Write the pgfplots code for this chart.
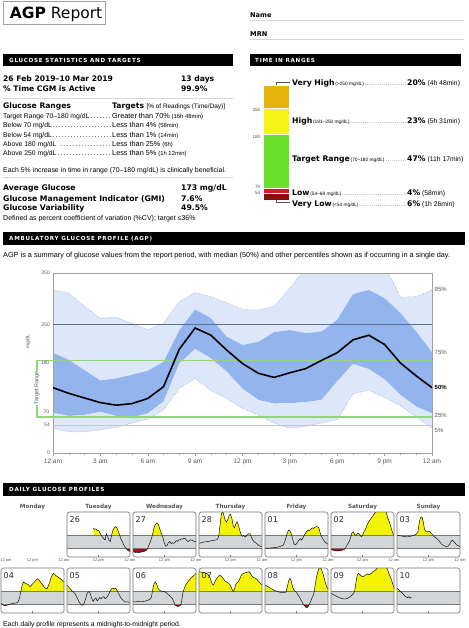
\documentclass[border=0pt]{standalone}
\usepackage{fontspec}
\setmainfont{Liberation Sans}
\newfontfamily\dv{DejaVu Sans}
\newfontfamily\dvl[LetterSpace=13]{DejaVu Sans}
\usepackage{pgfplots}
\pgfplotsset{compat=1.18}
\usepackage{pgfplotstable}
\newcommand{\fs}[1]{\fontsize{#1pt}{#1pt}\selectfont}

\definecolor{cVH}{RGB}{230,180,10}
\definecolor{cH}{RGB}{244,244,20}
\definecolor{cT}{RGB}{105,224,42}
\definecolor{cL}{RGB}{208,28,28}
\definecolor{cVL}{RGB}{143,10,10}
\definecolor{bandlight}{RGB}{220,231,250}
\definecolor{banddark}{RGB}{148,180,238}
\definecolor{bandedge}{RGB}{135,155,190}
\definecolor{tgreen}{RGB}{145,214,125}
\definecolor{lline}{RGB}{95,112,138}
\definecolor{lgray}{RGB}{200,200,200}
\definecolor{frame}{RGB}{160,160,160}
\definecolor{dgray}{RGB}{211,214,217}
\definecolor{dline}{RGB}{120,120,120}
\definecolor{dbox}{RGB}{115,115,115}
\definecolor{dyel}{RGB}{244,244,0}
\definecolor{dred}{RGB}{165,15,15}
\definecolor{rulec}{RGB}{215,215,215}
\definecolor{txtgray}{RGB}{85,85,85}
\definecolor{dtext}{RGB}{40,40,40}

\tikzset{t/.style={inner sep=0pt, anchor=base west}}

\pgfplotstableread{
h p05 p25 p50 p75 p95
0 48 78 127 195 317
1 41 72 116 181 311
2 41 74 107 161 285
3 45 80 98 141 262
4 50 72 93 145 264
5 58 69 96 152 252
6 66 77 106 160 240
7 84 100 129 177 252
8 126 174 202 239 294
9 145 202 243 279 312
10 122 184 229 262 304
11 106 158 200 226 292
12 87 125 174 210 279
13 74 103 155 216 278
14 58 96 147 235 285
15 48 97 156 239 320
16 52 99 164 233 360
17 58 103 180 236 380
18 65 139 195 259 385
19 115 173 220 309 385
20 122 163 229 317 375
21 108 143 211 301 365
22 92 113 175 272 303
23 70 90 150 236 304
24 48 77 127 196 317
}\agp

\pgfplotstableread{
x y
10 236
10.5 228
11 232
11.5 218
12 222
12.5 200
13 180
13.5 165
14 150
14.5 140
15 190
15.5 170
16 135
16.5 128
17 180
17.5 222
18 240
18.5 249
19 240
19.5 215
20 185
20.5 150
21 130
21.5 105
22 85
22.5 72
23 58
23.5 50
24 45
}\dayA

\pgfplotstableread{
x y
0 42
0.5 40
1 38
1.5 40
2 36
2.5 38
3 40
3.5 42
4 45
4.5 48
5 55
5.5 65
6 95
6.5 120
7 150
7.5 190
8 240
8.5 268
9 280
9.5 275
10 245
10.5 210
11 185
11.5 150
12 110
12.5 88
13 95
13.5 120
14 128
14.5 110
15 118
15.5 112
16 120
16.5 135
17 128
17.5 142
18 140
18.5 150
19 148
19.5 155
20 150
20.5 135
21 126
21.5 135
22 142
22.5 138
23 130
23.5 128
24 126
}\dayB

\pgfplotstableread{
x y
0 113
1 118
2 124
3 126
4 130
5 135
6 138
7 145
7.5 170
8 260
8.5 350
9 380
9.5 340
10 300
10.5 288
11 310
11.5 345
12 350
12.5 320
13 260
13.5 240
14 270
14.5 290
15 265
15.5 220
16 185
16.5 170
17 178
17.5 165
18 172
18.5 185
19 192
19.5 190
20 160
20.5 140
21 125
21.5 118
22 110
22.5 100
23 92
23.5 88
24 85
}\dayC

\pgfplotstableread{
x y
0 72
1 73
2 74
3 76
4 78
5 82
6 88
7 100
7.5 125
8 160
8.5 200
9 222
9.5 215
10 190
10.5 150
11 110
11.5 100
12 108
12.5 125
13 140
13.5 150
14 140
14.5 160
15 180
15.5 200
16 212
16.5 222
17 218
17.5 230
18 240
18.5 235
19 245
19.5 250
20 248
20.5 240
21 200
21.5 170
22 150
22.5 135
23 120
23.5 112
24 105
}\dayD

\pgfplotstableread{
x y
0 65
0.5 58
1 55
1.5 52
2 50
2.5 50
3 51
3.5 53
4 55
4.5 58
5 62
5.5 72
6 95
6.5 112
7 130
7.5 165
8 200
8.5 208
9 185
9.5 178
10 192
10.5 195
11 180
11.5 168
12 175
12.5 205
13 222
13.5 250
14 275
14.5 295
15 310
15.5 325
16 340
16.5 355
17 368
17.5 380
18 385
19 390
20 388
21 375
21.5 330
22 300
22.5 270
23 230
23.5 200
24 178
}\dayE

\pgfplotstableread{
x y
0 178
1 175
2 172
3 168
4 165
5 170
6 175
7 185
7.5 192
8 210
8.5 290
9 325
9.5 330
10 290
10.5 225
11 210
11.5 212
12 214
12.5 208
13 195
13.5 185
14 170
14.5 162
15 155
15.5 145
16 135
16.5 120
17 105
17.5 98
18 92
18.5 88
19 86
19.5 90
20 105
20.5 125
21 138
21.5 130
22 118
22.5 105
23 95
23.5 90
24 85
}\dayF

\pgfplotstableread{
x y
0 80
0.5 70
1 64
1.5 60
2 62
2.5 66
3 70
4 76
5 80
6 84
6.5 92
7 120
7.5 170
8 225
8.5 255
9 248
9.5 240
10 238
10.5 232
11 218
11.5 225
12 240
12.5 250
13 262
13.5 275
14 282
14.5 272
15 255
15.5 240
16 228
16.5 212
17 203
17.5 200
18 220
18.5 250
19 285
19.5 310
20 326
20.5 318
21 305
21.5 300
22 290
22.5 285
23 275
23.5 265
24 258
}\dayG

\pgfplotstableread{
x y
0 230
0.5 218
1 205
1.5 192
2 180
2.5 172
3 160
3.5 140
4 118
4.5 95
5 78
5.5 66
6 64
6.5 80
7 110
7.5 150
8 172
8.5 176
9 150
9.5 115
10 95
10.5 115
11 125
11.5 100
12 112
12.5 128
13 118
13.5 130
14 135
14.5 118
15 125
15.5 140
16 160
16.5 185
17 200
17.5 205
18 198
18.5 204
19 190
19.5 165
20 145
20.5 125
21 112
21.5 100
22 94
22.5 90
23 92
23.5 90
24 88
}\dayH

\pgfplotstableread{
x y
0 93
1 92
2 94
3 92
4 95
5 100
6 108
6.5 115
7 130
7.5 190
8 240
8.5 257
9 240
9.5 205
10 190
10.5 182
11 178
12 175
12.5 170
13 160
13.5 150
14 140
14.5 130
15 118
15.5 95
16 66
16.5 58
17 55
17.5 56
18 60
18.5 90
19 165
19.5 200
20 228
20.5 245
21 260
21.5 272
22 285
22.5 295
23 305
23.5 315
24 326
}\dayI

\pgfplotstableread{
x y
0 340
0.5 338
1 335
1.5 330
2 332
2.5 328
3 325
3.5 315
4 300
4.5 270
5 240
5.5 230
6 255
6.5 275
7 290
7.5 305
8 312
8.5 300
9 290
9.5 275
10 262
10.5 255
11 250
11.5 240
12 228
12.5 200
13 178
13.5 195
14 235
14.5 250
15 258
15.5 280
16 305
16.5 320
17 326
17.5 330
18 332
18.5 338
19 340
19.5 330
20 310
20.5 298
21 290
21.5 285
22 278
22.5 265
23 255
23.5 240
24 232
}\dayJ

\pgfplotstableread{
x y
0 230
1 218
2 205
3 192
4 182
5 174
6 170
7 168
8 172
8.5 215
9 265
9.5 285
10 262
10.5 215
11 190
11.5 178
12 168
12.5 150
13 135
13.5 115
14 95
14.5 75
15 60
15.5 48
16 45
16.5 55
17 78
17.5 100
18 130
18.5 150
19 210
19.5 280
20 330
20.5 365
21 375
21.5 360
22 330
22.5 290
23 250
23.5 215
24 200
}\dayK

\pgfplotstableread{
x y
0 162
1 150
2 138
3 128
4 120
5 115
6 118
7 130
8 148
8.5 160
9 178
9.5 250
10 310
10.5 326
11 315
11.5 305
12 298
12.5 300
13 310
13.5 318
14 322
14.5 315
15 320
15.5 330
16 340
16.5 345
17 355
17.5 365
18 380
19 385
20 385
21 378
21.5 360
22 330
22.5 300
23 275
23.5 240
24 205
}\dayL

\pgfplotstableread{
x y
0 205
0.5 195
1 182
1.5 172
2 165
2.5 152
3 140
3.5 132
4 126
4.5 135
5 122
5.5 130
}\dayM

\pgfplotsset{dayp/.style={anchor=south west, scale only axis, width=63pt, height=45pt,
  xmin=0, xmax=24, ymin=0, ymax=370,
  axis line style={draw=none},
  xtick={12}, xticklabels={}, ytick=\empty, xtick pos=bottom,
  tick align=inside, major tick length=2.5pt,
  xtick style={draw=dline, line width=0.4pt}}}

\newcommand{\daypanel}[7]{%
\begin{axis}[dayp, name=#1, at={(#2pt,-#3pt)}]
\addplot[draw=none, fill=dgray] coordinates {(0,70) (24,70) (24,180) (0,180)};
\begin{scope}
\clip (axis cs:0,180) rectangle (axis cs:24,400);
\addplot[draw=none, fill=dyel] table {#4} \closedcycle;
\end{scope}
\begin{scope}
\clip (axis cs:0,-10) rectangle (axis cs:24,70);
\addplot[draw=none, fill=dred] table {#4} -- (axis cs:#6,400) -- (axis cs:#5,400) -- cycle;
\end{scope}
\addplot[dline, line width=0.4pt] coordinates {(0,70) (24,70)};
\addplot[dline, line width=0.4pt] coordinates {(0,180) (24,180)};
\addplot[black, line width=0.45pt] table {#4};
\end{axis}
\draw[rounded corners=2.5pt, dbox, line width=0.6pt] (#1.south west) rectangle (#1.north east);
\node[t, font=\dv\fs{8}, text=dtext] at ({#2pt+2.5pt},{-#3pt+34.8pt}) {#7};
}

\begin{document}
\begin{tikzpicture}
\fill[white] (0,0) rectangle (468pt,-628pt);
\useasboundingbox (0,0) rectangle (468pt,-628pt);

% ---------- header
\draw[frame, line width=0.8pt] (3.3pt,-1.2pt) rectangle (105pt,-24pt);
\node[t, font=\dv\fs{15.5}] at (9.7pt,-18.4pt) {\bfseries AGP\mdseries\ Report};
\node[t, font=\dv\bfseries\fs{6.6}] at (250pt,-17.5pt) {Name};
\node[t, font=\dv\bfseries\fs{6.6}] at (250pt,-36.2pt) {MRN};
\draw[rulec, line width=0.6pt] (250pt,-20.7pt) -- (464pt,-20.7pt);
\draw[rulec, line width=0.6pt] (250pt,-39.3pt) -- (464pt,-39.3pt);

% ---------- glucose statistics
\fill[black] (3pt,-54.5pt) rectangle (233pt,-66.5pt);
\node[t, text=white, font=\dvl\bfseries\fs{5.6}] at (9pt,-62.8pt) {GLUCOSE STATISTICS AND TARGETS};
\node[t, font=\dv\bfseries\fs{7.6}] at (3pt,-81.1pt) {26 Feb 2019–10 Mar 2019};
\node[t, font=\dv\bfseries\fs{7.6}] at (181pt,-81.1pt) {13 days};
\node[t, font=\dv\bfseries\fs{7.6}] at (3pt,-91.1pt) {\% Time CGM is Active};
\node[t, font=\dv\bfseries\fs{7.6}] at (181pt,-91.1pt) {99.9\%};
\draw[rulec, line width=0.9pt] (3pt,-98pt) -- (233pt,-98pt);
\node[t, font=\dv\bfseries\fs{7.6}] at (3pt,-108.8pt) {Glucose Ranges};
\node[t, font=\dv\bfseries\fs{7.6}] at (112pt,-108.8pt) {Targets {\rmfamily\mdseries\fs{6.4}[\% of Readings (Time/Day)]}};
\node[t, font=\fs{6.8}] at (3pt,-118.4pt) {\makebox[109pt][l]{Target Range 70–180 mg/dL\dotfill}{\fs{7.3}Greater than 70\%} {\fs{5.9}(16h 48min)}};
\node[t, font=\fs{6.8}] at (3pt,-127.7pt) {\makebox[109pt][l]{Below 70 mg/dL\dotfill}{\fs{7.3}Less than 4\%} {\fs{5.9}(58min)}};
\node[t, font=\fs{6.8}] at (3pt,-137.1pt) {\makebox[109pt][l]{Below 54 mg/dL\dotfill}{\fs{7.3}Less than 1\%} {\fs{5.9}(14min)}};
\node[t, font=\fs{6.8}] at (3pt,-146.1pt) {\makebox[109pt][l]{Above 180 mg/dL \dotfill}{\fs{7.3}Less than 25\%} {\fs{5.9}(6h)}};
\node[t, font=\fs{6.8}] at (3pt,-155.1pt) {\makebox[109pt][l]{Above 250 mg/dL\dotfill}{\fs{7.3}Less than 5\%} {\fs{5.9}(1h 12min)}};
\node[t, font=\fs{6.9}] at (3pt,-172.3pt) {Each 5\% increase in time in range (70–180 mg/dL) is clinically beneficial.};
\draw[rulec, line width=0.9pt] (3pt,-177.7pt) -- (233pt,-177.7pt);
\node[t, font=\dv\bfseries\fs{7.7}] at (3pt,-190.5pt) {Average Glucose};
\node[t, font=\dv\bfseries\fs{7.7}] at (181pt,-190.5pt) {173 mg/dL};
\node[t, font=\dv\bfseries\fs{7.7}] at (3pt,-201.5pt) {Glucose Management Indicator (GMI)};
\node[t, font=\dv\bfseries\fs{7.7}] at (181pt,-201.5pt) {7.6\%};
\node[t, font=\dv\bfseries\fs{7.7}] at (3pt,-210.5pt) {Glucose Variability};
\node[t, font=\dv\bfseries\fs{7.7}] at (181pt,-210.5pt) {49.5\%};
\node[t, font=\fs{7}] at (3pt,-220.2pt) {Defined as percent coefficient of variation (\%CV); target ≤36\%};

% ---------- time in ranges
\fill[black] (250pt,-54.5pt) rectangle (461pt,-66.5pt);
\node[t, text=white, font=\dvl\bfseries\fs{5.6}] at (255pt,-62.8pt) {TIME IN RANGES};
\begin{axis}[at={(263pt,-200pt)}, anchor=south west, scale only axis, width=26pt, height=115pt,
  xmin=-0.5, xmax=0.5, ymin=0, ymax=100, hide axis, ybar stacked, bar width=26pt, clip=false]
\addplot[fill=cVL, draw=white, line width=0.5pt] coordinates {(0,6)};
\addplot[fill=cL, draw=white, line width=0.5pt] coordinates {(0,4)};
\addplot[fill=cT, draw=white, line width=0.5pt] coordinates {(0,47)};
\addplot[fill=cH, draw=white, line width=0.5pt] coordinates {(0,23)};
\addplot[fill=cVH, draw=white, line width=0.5pt] coordinates {(0,20)};
\end{axis}
\node[inner sep=0pt, anchor=base east, font=\fs{4.6}, text=txtgray] at (260.5pt,-111.6pt) {250};
\node[inner sep=0pt, anchor=base east, font=\fs{4.6}, text=txtgray] at (260.5pt,-138.6pt) {180};
\node[inner sep=0pt, anchor=base east, font=\fs{4.6}, text=txtgray] at (260.5pt,-189pt) {70};
\node[inner sep=0pt, anchor=base east, font=\fs{4.6}, text=txtgray] at (260.5pt,-194.8pt) {54};
\draw[txtgray, line width=0.5pt] (276pt,-85pt) -- (276pt,-82.7pt) -- (290pt,-82.7pt);
\draw[txtgray, line width=0.5pt] (276pt,-200pt) -- (276pt,-202.5pt) -- (290pt,-202.5pt);
\node[t, font=\dv\bfseries\fs{7.7}] at (292pt,-85.8pt) {\makebox[115pt][l]{Very High{\rmfamily\mdseries\fs{4.8}\,(>250 mg/dL)\dotfill}}20\%{\rmfamily\mdseries\fs{6.8} (4h 48min)}};
\node[t, font=\dv\bfseries\fs{7.7}] at (292pt,-123.5pt) {\makebox[115pt][l]{High{\rmfamily\mdseries\fs{4.8}\,(181–250 mg/dL)\dotfill}}23\%{\rmfamily\mdseries\fs{6.8} (5h 31min)}};
\node[t, font=\dv\bfseries\fs{7.7}] at (292pt,-161.1pt) {\makebox[115pt][l]{Target Range{\rmfamily\mdseries\fs{4.8}\,(70–180 mg/dL)\dotfill}}47\%{\rmfamily\mdseries\fs{6.8} (11h 17min)}};
\node[t, font=\dv\bfseries\fs{7.7}] at (292pt,-195.5pt) {\makebox[115pt][l]{Low{\rmfamily\mdseries\fs{4.8}\,(54–69 mg/dL)\dotfill}}4\%{\rmfamily\mdseries\fs{6.8} (58min)}};
\node[t, font=\dv\bfseries\fs{7.7}] at (292pt,-206.1pt) {\makebox[115pt][l]{Very Low{\rmfamily\mdseries\fs{4.8}\,(<54 mg/dL)\dotfill}}6\%{\rmfamily\mdseries\fs{6.8} (1h 26min)}};

% ---------- AGP
\fill[black] (3pt,-232pt) rectangle (465pt,-245pt);
\node[t, text=white, font=\dvl\bfseries\fs{5.6}] at (9pt,-240.3pt) {AMBULATORY GLUCOSE PROFILE (AGP)};
\node[t, font=\fs{7.3}] at (3pt,-257.6pt) {AGP is a summary of glucose values from the report period, with median (50\%) and other percentiles shown as if occurring in a single day.};

% bands (stacked areas)
\begin{axis}[at={(53pt,-453pt)}, anchor=south west, scale only axis, width=379pt, height=180pt,
  xmin=0, xmax=24, ymin=0, ymax=350, hide axis, stack plots=y]
\addplot[draw=none] table[x=h,y=p05] {\agp};
\addplot[fill=bandlight, draw=none] table[x=h,y expr=\thisrow{p25}-\thisrow{p05}] {\agp} \closedcycle;
\addplot[fill=banddark, draw=none] table[x=h,y expr=\thisrow{p75}-\thisrow{p25}] {\agp} \closedcycle;
\addplot[fill=bandlight, draw=none] table[x=h,y expr=\thisrow{p95}-\thisrow{p75}] {\agp} \closedcycle;
\end{axis}

\begin{axis}[at={(53pt,-453pt)}, anchor=south west, scale only axis, width=379pt, height=180pt,
  xmin=0, xmax=24, ymin=0, ymax=350,
  axis line style={draw=frame, line width=0.6pt},
  xtick={0,3,...,24},
  xticklabels={12 am,3 am,6 am,9 am,12 pm,3 pm,6 pm,9 pm,12 am},
  minor xtick={1,2,...,23},
  xtick pos=bottom, ytick pos=left,
  tick align=outside, major tick length=3pt, minor tick length=2pt,
  xtick style={draw=frame, line width=0.5pt},
  ytick={0,54,250,350}, yticklabels={0,54,250,350},
  ytick style={draw=none},
  yticklabel style={font=\fs{5}, text=txtgray, inner sep=0pt},
  xticklabel style={font=\fs{6.5}, text=txtgray, inner sep=0pt, yshift=-2.5pt}]
\addplot[bandedge, densely dotted, line width=0.45pt] table[x=h,y=p95] {\agp};
\addplot[bandedge, densely dotted, line width=0.45pt] table[x=h,y=p05] {\agp};
\addplot[lline, line width=0.6pt] coordinates {(0,250) (24,250)};
\addplot[lgray, line width=1.3pt] coordinates {(0,54) (24,54)};
\addplot[tgreen, line width=1.3pt] coordinates {(0,180) (24,180)};
\addplot[tgreen, line width=1.3pt] coordinates {(0,70) (24,70)};
\addplot[black, line width=1.6pt] table[x=h,y=p50] {\agp};
\end{axis}
\draw[tgreen, line width=1.3pt] (53pt,-360.4pt) -- (37pt,-360.4pt) -- (37pt,-417pt) -- (53pt,-417pt);
\node[rotate=90, font=\fs{5}, text=txtgray, inner sep=0pt] at (28pt,-341.7pt) {mg/dL};
\node[rotate=90, font=\fs{5.5}, text=txtgray, fill=white, inner sep=0.8pt] at (37pt,-388pt) {Target Range};
\node[anchor=east, font=\fs{5}, text=txtgray, inner sep=0pt] at (49.3pt,-363pt) {180};
\node[anchor=east, font=\fs{5}, text=txtgray, inner sep=0pt] at (49.3pt,-412pt) {70};
\node[anchor=west, font=\fs{6}, text=txtgray, inner sep=0pt] at (434.5pt,-289.5pt) {95\%};
\node[anchor=west, font=\fs{6}, text=txtgray, inner sep=0pt] at (434.5pt,-352.3pt) {75\%};
\node[anchor=west, font=\bfseries\fs{6}, inner sep=0pt] at (434.5pt,-387.7pt) {50\%};
\node[anchor=west, font=\fs{6}, text=txtgray, inner sep=0pt] at (434.5pt,-415pt) {25\%};
\node[anchor=west, font=\fs{6}, text=txtgray, inner sep=0pt] at (434.5pt,-430.7pt) {5\%};

% ---------- daily profiles
\fill[black] (3pt,-483pt) rectangle (465pt,-495.5pt);
\node[t, text=white, font=\dvl\bfseries\fs{5.6}] at (9pt,-491.5pt) {DAILY GLUCOSE PROFILES};
\foreach \d/\xx in {Monday/32.5,Tuesday/98.5,Wednesday/164.5,Thursday/230.5,Friday/296.5,Saturday/362.5,Sunday/428.5}
  \node[inner sep=0pt, anchor=base, font=\dv\bfseries\fs{5.7}, text=txtgray] at (\xx pt,-508.1pt) {\d};

\daypanel{pA}{67}{557}{\dayA}{10}{24}{26}
\daypanel{pB}{133}{557}{\dayB}{0}{24}{27}
\daypanel{pC}{199}{557}{\dayC}{0}{24}{28}
\daypanel{pD}{265}{557}{\dayD}{0}{24}{01}
\daypanel{pE}{331}{557}{\dayE}{0}{24}{02}
\daypanel{pF}{397}{557}{\dayF}{0}{24}{03}
\daypanel{pG}{1}{613}{\dayG}{0}{24}{04}
\daypanel{pH}{67}{613}{\dayH}{0}{24}{05}
\daypanel{pI}{133}{613}{\dayI}{0}{24}{06}
\daypanel{pJ}{199}{613}{\dayJ}{0}{24}{07}
\daypanel{pK}{265}{613}{\dayK}{0}{24}{08}
\daypanel{pL}{331}{613}{\dayL}{0}{24}{09}
\daypanel{pM}{397}{613}{\dayM}{0}{5.5}{10}

\node[inner sep=0pt, anchor=base, font=\fs{4}, text=txtgray] at (6pt,-561.4pt) {12 am};
\foreach \xx in {1,67,133,199,265,331,397}{
  \node[inner sep=0pt, anchor=base, font=\fs{4}, text=txtgray] at ({\xx pt+31.5pt},-561.4pt) {12 pm};
  \node[inner sep=0pt, anchor=base, font=\fs{4}, text=txtgray] at ({\xx pt+63pt},-561.4pt) {12 am};
}
\node[t, font=\fs{6.8}] at (3pt,-626.2pt) {Each daily profile represents a midnight-to-midnight period.};
\end{tikzpicture}
\end{document}
